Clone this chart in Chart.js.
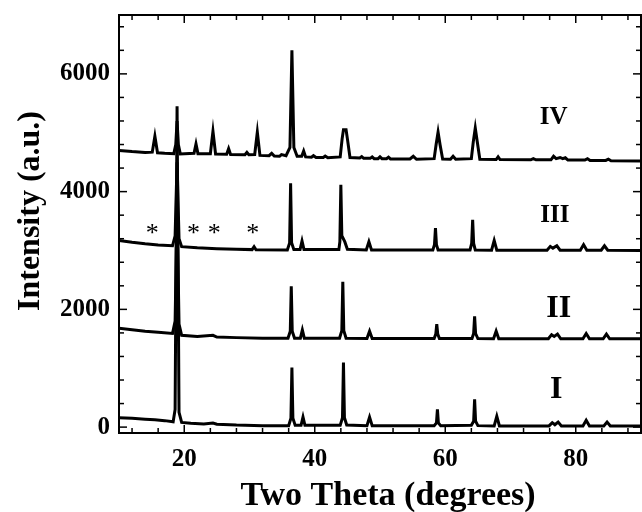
<!DOCTYPE html>
<html>
<head>
<meta charset="utf-8">
<script src="https://cdn.jsdelivr.net/npm/chart.js@4/dist/chart.umd.min.js"></script>
<style>
html,body{margin:0;padding:0;background:#fff}
canvas{display:block}
</style>
</head>
<body>
<canvas id="xrd" width="642" height="512"></canvas>
<script>
// XRD patterns, [2theta, intensity], stacked by hand
const patternI = [[10,160],[12,150],[14,135],[15.5,125],[17,110],[18.3,90],[18.6,300],[18.9,5450],[19.2,250],[19.6,80],[21,65],[23,55],[24.4,70],[25,50],[28,35],[32,25],[36.0,25],[36.35,150],[36.5,1010],[36.65,150],[37.0,30],[37.9,30],[38.2,170],[38.5,30],[43.9,30],[44.25,160],[44.4,1095],[44.55,160],[44.9,35],[48.0,25],[48.4,170],[48.8,25],[58.3,25],[58.65,70],[58.8,300],[58.95,70],[59.3,25],[64.0,30],[64.35,100],[64.5,470],[64.65,100],[65.0,25],[67.5,20],[67.9,185],[68.3,20],[75.9,20],[76.4,75],[76.8,40],[77.3,85],[77.8,20],[81.1,20],[81.6,115],[82.1,20],[84.3,20],[84.8,85],[85.3,20],[90,20]]

const patternII = [[10,1680],[12,1655],[14,1630],[16,1610],[18.2,1590],[18.6,1800],[18.9,3700],[19.2,1750],[19.6,1560],[22,1540],[24.4,1560],[25,1530],[28,1520],[32,1510],[35.9,1510],[36.25,1630],[36.4,2394],[36.55,1630],[36.9,1510],[37.8,1510],[38.1,1650],[38.4,1510],[43.8,1510],[44.15,1640],[44.3,2467],[44.45,1640],[44.8,1510],[48.0,1505],[48.4,1630],[48.8,1505],[58.3,1505],[58.55,1580],[58.7,1750],[58.85,1580],[59.1,1505],[64.1,1505],[64.35,1590],[64.5,1880],[64.65,1590],[65.0,1505],[67.4,1500],[67.8,1630],[68.2,1500],[75.8,1500],[76.3,1570],[76.7,1540],[77.2,1580],[77.7,1500],[81.1,1500],[81.6,1590],[82.1,1500],[84.2,1500],[84.7,1580],[85.2,1500],[90,1500]]

const patternIII = [[10,3170],[12,3140],[14,3115],[16,3095],[18.2,3080],[18.6,3250],[18.9,4500],[19.2,3200],[19.6,3065],[22,3045],[25,3030],[28,3020],[30.4,3015],[30.7,3065],[31.0,3012],[35.8,3010],[36.15,3130],[36.3,4140],[36.45,3130],[36.8,3015],[37.75,3015],[38.05,3160],[38.35,3015],[43.7,3015],[43.85,3150],[44.0,4115],[44.15,3250],[44.6,3150],[45.0,3020],[47.9,3010],[48.3,3150],[48.7,3010],[58.1,3010],[58.35,3100],[58.5,3380],[58.65,3100],[58.9,3010],[63.8,3010],[64.05,3120],[64.2,3520],[64.35,3120],[64.6,3010],[67.1,3005],[67.5,3170],[67.9,3005],[75.6,3005],[76.1,3070],[76.5,3040],[77.1,3080],[77.6,3005],[80.7,3005],[81.2,3100],[81.7,3005],[83.9,3005],[84.4,3080],[84.9,3005],[90,3000]]

const patternIV = [[10,4700],[12,4680],[14,4665],[15.1,4670],[15.5,4940],[15.9,4660],[17,4650],[18.4,4645],[18.7,4800],[18.9,5200],[19.1,4800],[19.4,4640],[21.5,4650],[21.8,4810],[22.1,4645],[24.0,4645],[24.4,5025],[24.8,4640],[26.5,4635],[26.8,4730],[27.1,4630],[29.3,4625],[29.6,4665],[29.9,4625],[30.8,4630],[31.2,5010],[31.6,4615],[33.0,4610],[33.4,4650],[33.8,4605],[34.6,4600],[34.9,4630],[35.6,4610],[36.2,4750],[36.5,6400],[36.8,4750],[37.3,4600],[38.0,4600],[38.3,4690],[38.6,4590],[39.5,4585],[39.8,4610],[40.2,4580],[41.3,4580],[41.6,4605],[42.0,4575],[43.9,4590],[44.2,4900],[44.4,5050],[44.8,5050],[45.0,4900],[45.4,4580],[46.9,4570],[47.2,4595],[47.5,4565],[48.5,4565],[48.8,4590],[49.1,4560],[49.7,4560],[50.0,4590],[50.3,4560],[51.0,4560],[51.3,4585],[51.6,4555],[54.6,4555],[55.1,4600],[55.6,4550],[58.3,4560],[58.6,4800],[58.9,5010],[59.2,4800],[59.6,4555],[60.8,4550],[61.2,4600],[61.6,4550],[64.0,4560],[64.3,4850],[64.6,5080],[64.9,4850],[65.3,4550],[67.8,4545],[68.1,4590],[68.4,4545],[73.1,4540],[73.5,4560],[73.9,4540],[76.2,4540],[76.6,4600],[77.0,4560],[77.6,4580],[78.0,4560],[78.4,4575],[78.8,4535],[81.4,4535],[81.8,4560],[82.2,4530],[84.6,4530],[85.0,4550],[85.4,4525],[90,4520]]

const sampleNames = ["I","II","III","IV"]
const impurityPeaks = [15.1, 21.4, 24.6, 30.5]
const xTicks = [20,40,60,80]
const yTicks = [0,2000,4000,6000]
const xTitle = "Two Theta (degrees)"
const yTitle = "Intensity (a.u.)"

const FONT = "'Liberation Serif','Times New Roman',serif"

// where the sample names and the * marks sit, in data units
const nameSpots = [
  {x:77.0, y:640, size:32},
  {x:77.4, y:2005, size:32},
  {x:76.8, y:3590, size:25},
  {x:76.6, y:5250, size:25}
]
const starLevel = 3380

const framePlugin = {
  id:"frame",
  afterDatasetsDraw(chart){
    const {ctx, chartArea:a, scales:{x, y}} = chart
    ctx.save()
    ctx.strokeStyle = "#000"
    ctx.lineWidth = 2
    ctx.strokeRect(a.left, a.top, a.right - a.left, a.bottom - a.top)

    ctx.lineWidth = 1.5
    const tick = (x1,y1,x2,y2)=>{ ctx.beginPath(); ctx.moveTo(x1,y1); ctx.lineTo(x2,y2); ctx.stroke() }

    for(let v = 12; v < 90; v += 4){
      const px = x.getPixelForValue(v)
      const len = xTicks.includes(v) ? 8 : 5
      tick(px, a.bottom, px, a.bottom - len)
      tick(px, a.top, px, a.top + len)
    }
    for(let v = 0; v < 7000; v += 400){
      const py = y.getPixelForValue(v)
      const len = yTicks.includes(v) ? 8 : 5
      tick(a.left, py, a.left + len, py)
      tick(a.right, py, a.right - len, py)
    }
    ctx.restore()
  },
  afterDraw(chart){
    const {ctx, scales:{x, y}} = chart
    ctx.save()
    ctx.fillStyle = "#000"
    ctx.textAlign = "center"
    ctx.textBaseline = "middle"
    sampleNames.forEach((name,i)=>{
      const s = nameSpots[i]
      ctx.font = "bold " + s.size + "px " + FONT
      ctx.fillText(name, x.getPixelForValue(s.x), y.getPixelForValue(s.y))
    })
    ctx.font = "26px " + FONT
    impurityPeaks.forEach(p=>{
      ctx.fillText("*", x.getPixelForValue(p), y.getPixelForValue(starLevel) + 6)
    })

    // axis titles
    ctx.font = "bold 34px " + FONT
    ctx.fillText(xTitle, 388, 496)
    ctx.font = "bold 32px " + FONT
    ctx.translate(31, 211)
    ctx.rotate(-Math.PI/2)
    ctx.fillText(yTitle, 0, 0)
    ctx.restore()
  }
}

const patterns = [patternI, patternII, patternIII, patternIV]

new Chart(document.getElementById("xrd"),{
  type:"line",
  data:{
    datasets: patterns.map((p,i)=>({
      label: sampleNames[i],
      data: p.map(([x,y])=>({x,y})),
      borderColor:"#000",
      borderWidth:3,
      pointRadius:0,
      tension:0,
      fill:false
    }))
  },
  options:{
    responsive:false,
    animation:false,
    layout:{padding:{top:15,right:1,left:0,bottom:0}},
    plugins:{legend:{display:false},tooltip:{enabled:false}},
    scales:{
      x:{
        type:"linear",
        min:10,
        max:90,
        afterBuildTicks:s=>{ s.ticks = xTicks.map(v=>({value:v})) },
        afterFit:s=>{ s.height = 79; s.paddingLeft = 0; s.paddingRight = 0 },
        grid:{display:false,drawTicks:false},
        border:{display:false},
        ticks:{color:"#000",padding:12,font:{family:FONT,size:25,weight:"bold"},callback:v=>String(v)}
      },
      y:{
        type:"linear",
        min:-100,
        max:7000,
        afterBuildTicks:s=>{ s.ticks = yTicks.map(v=>({value:v})) },
        afterFit:s=>{ s.width = 119; s.paddingTop = 0; s.paddingBottom = 0 },
        grid:{display:false,drawTicks:false},
        border:{display:false},
        ticks:{color:"#000",padding:9,font:{family:FONT,size:25,weight:"bold"},callback:v=>String(v)}
      }
    }
  },
  plugins:[framePlugin]
})
</script>
</body>
</html>
